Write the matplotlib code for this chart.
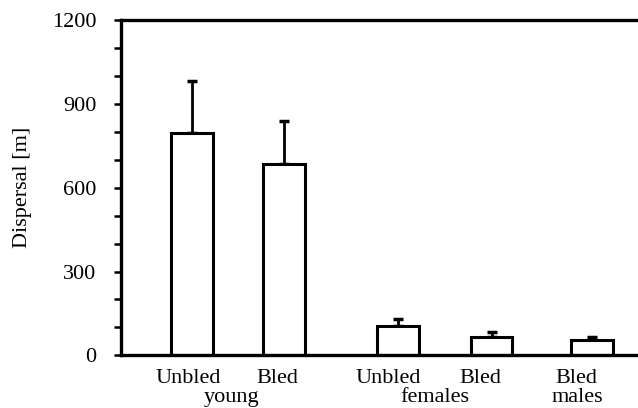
import numpy as np
import matplotlib.pyplot as plt

plt.rcParams['font.family'] = ['Liberation Serif', 'DejaVu Serif']

# data
treatments = ['Unbled', 'Bled', 'Unbled', 'Bled', 'Bled']
groups = ['young', 'females', 'males']
dispersal = [795, 685, 105, 65, 55]
upper_err = [185, 155, 25, 17, 9]

# layout
bar_x = np.array([0.77, 1.77, 3.01, 4.03, 5.12])
label_x = bar_x - np.array([0.04, 0.07, 0.11, 0.13, 0.17])
group_x = [1.20, 3.41, 4.96]

fig = plt.figure(figsize=(6.38, 4.08), dpi=100)
ax = fig.add_axes([0.19, 0.129, 0.81, 0.822])

ax.bar(bar_x, dispersal, width=0.45, color='white', edgecolor='black',
       linewidth=2.2, zorder=2)
ax.errorbar(bar_x, dispersal, yerr=[np.zeros(len(dispersal)), upper_err],
            fmt='none', ecolor='black', elinewidth=2.0, capsize=3.5,
            capthick=2.5, zorder=1)

ax.set_xlim(0, 5.62)
ax.set_ylim(0, 1200)
ax.set_yticks(np.arange(0, 1201, 300))
ax.set_yticks(np.arange(0, 1201, 100), minor=True)
ax.tick_params(axis='y', which='both', direction='out', length=5, width=1.8,
               labelsize=16, pad=13)
ax.set_xticks(label_x)
ax.set_xticklabels(treatments, fontsize=16)
ax.tick_params(axis='x', length=0, pad=10)
for gx, g in zip(group_x, groups):
    ax.text(gx, -0.127, g, transform=ax.get_xaxis_transform(), ha='center',
            va='center', fontsize=16)

ax.set_ylabel('Dispersal [m]', fontsize=16, labelpad=14)

ax.spines['right'].set_visible(False)
for s in ['left', 'top', 'bottom']:
    ax.spines[s].set_linewidth(2.4)

fig.savefig('out.png', dpi=100)
